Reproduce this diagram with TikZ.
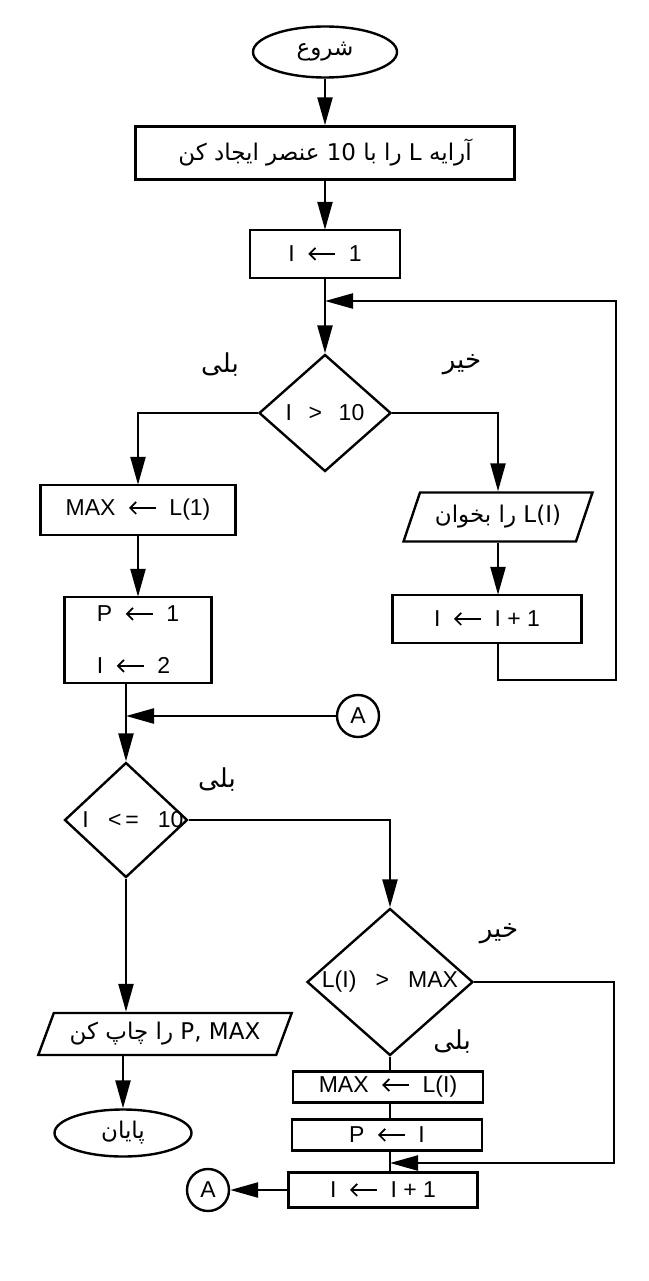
\documentclass[tikz,border=0pt]{standalone}
\usepackage{fontspec}
\setmainfont{Liberation Sans}
\newfontfamily\farsi[Script=Arabic]{DejaVu Sans}
\TeXXeTstate=1
\usetikzlibrary{arrows.meta,calc,positioning,shapes.geometric}
\newcommand{\asg}{\hspace{.55em}\tikz[baseline={(0pt,-8pt)}]\draw[line width=1.7pt,{Straight Barb[length=6pt,width=12pt]}-](0pt,0pt)--(27pt,0pt);\hspace{.55em}}

\begin{document}
\begin{tikzpicture}[x=1pt,y=-1pt,line width=2.4pt,
    font=\fontsize{23}{26}\selectfont,
    box/.style={draw,rectangle,inner sep=0pt},
    term/.style={draw,ellipse,inner sep=0pt},
    cond/.style={draw,diamond,inner sep=0pt},
    io/.style={draw,trapezium,trapezium left angle=60,trapezium right angle=120,trapezium stretches=true,inner sep=0pt},
    conn/.style={draw,circle,minimum size=42pt,inner sep=0pt},
    fa/.style={font=\fontsize{23}{26}\farsi},
    note/.style={font=\fontsize{26}{28}\farsi},
    arr/.style={-{Triangle[length=28pt,width=15pt]}},
    flow/.style={-}]
  \useasboundingbox (0,0) rectangle (648,1281);

  \node[term,fa,minimum width=144pt,minimum height=51pt] (start) at (325,52) {\beginR شروع\endR};
  \node[box,fa,minimum width=379pt,minimum height=53pt] (make) at (325,153) {\beginR آرایه \beginL L\endL{} را با \beginL 10\endL{} عنصر ایجاد کن\endR};
  \node[box,minimum width=150pt,minimum height=48pt] (init) at (325,254) {I\asg 1};
  \coordinate (loopin) at (325,301);
  \node[cond,minimum width=132pt,minimum height=117pt] (test1) at (325,413) {\makebox[0pt]{I \ \,> \ \,10}};
  \node[note] (yes1) at (220,365) {بلی};
  \node[note] (no1) at (462,365) {خیر};

  \node[box,minimum width=195pt,minimum height=50pt] (max1) at (138,510) {MAX\asg L(1)};
  \node[box,minimum width=147pt,minimum height=86pt,align=left] (setp) at (138,640) {P\asg 1\\[26pt] I\asg 2};
  \node[io,fa,minimum width=189pt,minimum height=49pt] (read) at (498,517) {\beginR\beginL L(I)\endL{} را بخوان\endR};
  \node[box,minimum width=189pt,minimum height=48pt] (inc1) at (487,619) {I\asg I + 1};
  \coordinate (loopR) at (616,680);

  \node[conn] (conA) at (358,716) {A};
  \node[cond,minimum width=123pt,minimum height=115pt] (test2) at (126,820) {\makebox[0pt]{\hspace{14pt}I \ \ <\,= \ \ 10}};
  \node[note] (yes2) at (217,780) {بلی};
  \node[cond,minimum width=166pt,minimum height=147pt] (test3) at (390,982) {\makebox[0pt]{L(I) \ \ > \ \ MAX}};
  \node[note] (no3) at (499,934) {خیر};
  \node[note] (yes3) at (452,1042) {بلی};

  \node[io,fa,minimum width=254pt,minimum height=42pt] (print) at (165,1034) {\beginR\beginL P, MAX\endL{} را چاپ کن\endR};
  \node[term,fa,minimum width=137pt,minimum height=47pt] (stop) at (123,1133) {\beginR پایان\endR};

  \node[box,minimum width=190pt,minimum height=31pt] (max2) at (388,1087) {MAX\asg L(I)};
  \node[box,minimum width=190pt,minimum height=31pt] (setp2) at (387,1135) {P\asg I};
  \node[box,minimum width=189pt,minimum height=35pt] (inc2) at (383,1190) {I\asg I + 1};
  \coordinate (loop2R) at (614,1163);
  \node[conn] (conA2) at (208,1190) {A};

  \draw[arr] (start) -- (make);
  \draw[arr] (make) -- (init);
  \draw[arr] (init) -- (test1);
  \draw[arr] (test1.west) -| (max1.north);
  \draw[arr] (test1.east) -| (read.north);
  \draw[arr] (max1.south) -- (max1.south |- setp.north);
  \draw[arr] (read.south) -- (read.south |- inc1.north);
  \draw[arr] (inc1.south -| read.south) |- (loopR) |- (loopin);

  \coordinate (j1) at (test2.north |- conA);
  \draw[arr] (setp.south -| test2.north) -- (test2.north);
  \draw[arr] (conA) -- (j1);
  \draw[arr] (test2.east) -| (test3.north);
  \draw[arr] (test2.south) -- (test2.south |- print.north);
  \draw[arr] (stop.north |- print.south) -- (stop.north);

  \coordinate (j2) at (test3.south |- loop2R);
  \draw[flow] (test3.south) -- (test3.south |- max2.north);
  \draw[flow] (test3.south |- max2.south) -- (test3.south |- setp2.north);
  \draw[flow] (test3.south |- setp2.south) -- (test3.south |- inc2.north);
  \draw[arr] (test3.east) -| (loop2R) -- (j2);
  \draw[arr] (inc2.west) -- (conA2);
\end{tikzpicture}
\end{document}
